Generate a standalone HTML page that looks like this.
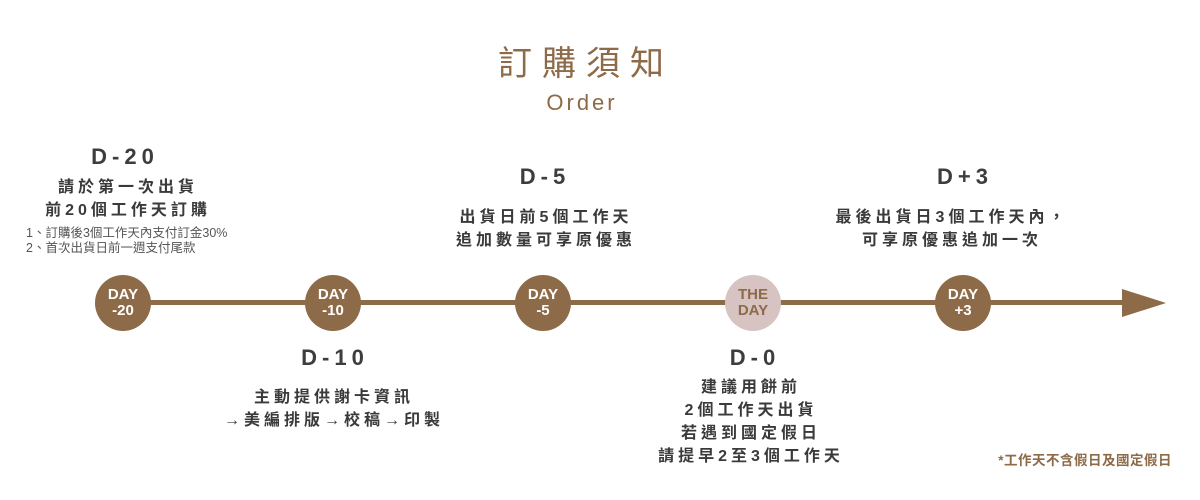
<!DOCTYPE html>
<html><head><meta charset="utf-8"><style>
html,body{margin:0;padding:0;background:#fff;}
body{width:1200px;height:500px;position:relative;overflow:hidden;font-family:"Liberation Sans","Noto Sans CJK TC",sans-serif;}
.c{position:absolute;width:400px;text-align:center;white-space:nowrap;}
.h{font-size:22px;font-weight:bold;color:#3d3d3d;letter-spacing:5px;line-height:24px;}
.t{font-size:16px;font-weight:bold;color:#3a3a3a;letter-spacing:4px;line-height:23px;}
.s{font-size:12.5px;color:#555;line-height:15px;text-align:left;}
.dot{position:absolute;width:56px;height:56px;border-radius:50%;background:#8d6a48;color:#fff;font-weight:bold;font-size:15px;line-height:16px;text-align:center;display:flex;align-items:center;justify-content:center;flex-direction:column;}
</style></head><body>
<div class="c" style="left:376px;top:44px;font-size:34px;color:#8d6a48;letter-spacing:10px;padding-left:10px;line-height:40px;">訂購須知</div>
<div class="c" style="left:382px;top:90px;font-size:22px;color:#8d6a48;letter-spacing:3px;line-height:26px;">Order</div>

<div style="position:absolute;left:123px;top:300px;width:1005px;height:5px;background:#8d6a48;"></div>
<div style="position:absolute;left:1122px;top:289px;width:0;height:0;border-top:14px solid transparent;border-bottom:14px solid transparent;border-left:44px solid #8d6a48;"></div>

<div class="dot" style="left:95px;top:275px;">DAY<br>-20</div>
<div class="dot" style="left:305px;top:275px;">DAY<br>-10</div>
<div class="dot" style="left:515px;top:275px;">DAY<br>-5</div>
<div class="dot" style="left:725px;top:275px;background:#d8c3c3;color:#8d6a48;">THE<br>DAY</div>
<div class="dot" style="left:935px;top:275px;">DAY<br>+3</div>

<div class="c h" style="left:-75px;top:145px;">D-20</div>
<div class="c t" style="left:-72px;top:176px;">請於第一次出貨<br>前20個工作天訂購</div>
<div class="s" style="position:absolute;left:26px;top:226px;">1、訂購後3個工作天內支付訂金30%<br>2、首次出貨日前一週支付尾款</div>

<div class="c h" style="left:345px;top:165px;">D-5</div>
<div class="c t" style="left:346px;top:206px;">出貨日前5個工作天<br>追加數量可享原優惠</div>

<div class="c h" style="left:765px;top:165px;">D+3</div>
<div class="c t" style="left:752px;top:206px;">最後出貨日3個工作天內，<br>可享原優惠追加一次</div>

<div class="c h" style="left:135px;top:346px;">D-10</div>
<div class="c t" style="left:134px;top:386px;">主動提供謝卡資訊<br>→美編排版→校稿→印製</div>

<div class="c h" style="left:555px;top:346px;">D-0</div>
<div class="c t" style="left:551px;top:376px;">建議用餅前<br>2個工作天出貨<br>若遇到國定假日<br>請提早2至3個工作天</div>

<div style="position:absolute;right:28px;top:449px;font-size:13.5px;color:#8d6a48;font-weight:bold;letter-spacing:0.5px;">*工作天不含假日及國定假日</div>
</body></html>
